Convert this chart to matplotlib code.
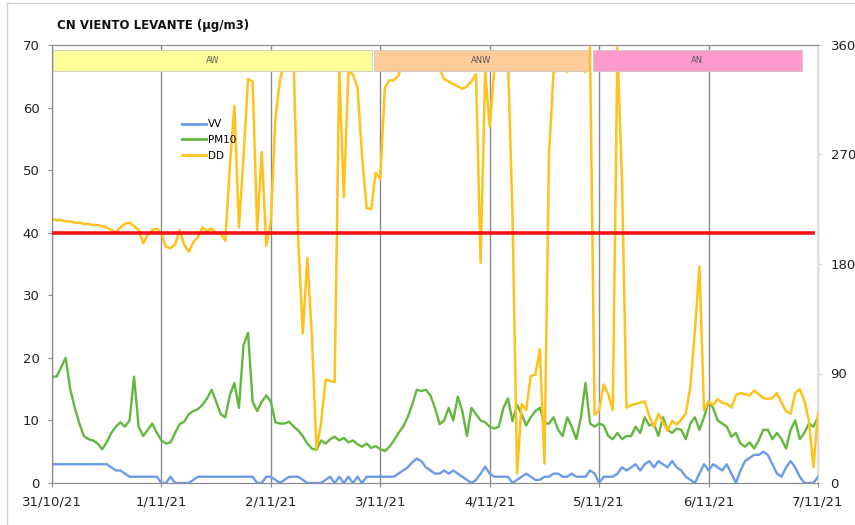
import numpy as np
import matplotlib.pyplot as plt
from matplotlib.lines import Line2D

# hourly values, 31/10/21 00:00 .. 7/11/21 00:00
hours = np.arange(169)

vv = [3, 3, 3, 3, 3, 3, 3, 3, 3, 3, 3, 3, 3, 2.5, 2, 2, 1.5, 1, 1, 1, 1, 1, 1, 1,
      0, 0, 1, 0, 0, 0, 0, 0.5, 1, 1, 1, 1, 1, 1, 1, 1, 1, 1, 1, 1, 1, 0, 0, 1,
      1, 0.5, 0, 0.5, 1, 1, 1, 0.5, 0, 0, 0, 0, 0.5, 1, 0, 1, 0, 1, 0, 1, 0, 1, 1, 1,
      1, 1, 1, 1, 1.5, 2, 2.5, 3.3, 3.9, 3.5, 2.5, 2, 1.5, 1.5, 2, 1.5, 2, 1.5, 1, 0.5, 0, 0.5, 1.5, 2.6,
      1.5, 1, 1, 1, 1, 0, 0.5, 1, 1.5, 1, 0.5, 0.5, 1, 1, 1.5, 1.5, 1, 1, 1.5, 1, 1, 1, 2, 1.5,
      0, 1, 1, 1, 1.5, 2.5, 2, 2.5, 3, 2, 3, 3.5, 2.5, 3.5, 3, 2.5, 3.5, 2.5, 2, 1, 0.5, 0, 1.5, 3,
      2, 3, 2.5, 2, 3, 1.5, 0, 2, 3.5, 4, 4.5, 4.5, 5, 4.5, 3, 1.5, 1, 2.5, 3.5, 2.5, 1, 0, 0, 0,
      1]

pm10 = [17, 17, 18.5, 20, 15, 12, 9.5, 7.5, 7, 6.8, 6.3, 5.4, 6.5, 8, 9, 9.7, 9, 10, 17, 9, 7.5, 8.5, 9.5, 8,
        6.8, 6.3, 6.5, 8, 9.4, 9.8, 11, 11.5, 11.8, 12.5, 13.5, 14.9, 13, 11, 10.5, 14, 16, 12, 22, 24, 13, 11.5, 13, 14,
        13, 9.7, 9.5, 9.5, 9.8, 9, 8.4, 7.5, 6.3, 5.5, 5.3, 6.8, 6.3, 7, 7.4, 6.8, 7.2, 6.5, 6.8, 6.2, 5.8, 6.3, 5.6, 5.9,
        5.4, 5.1, 5.8, 6.8, 8, 9, 10.5, 12.5, 14.9, 14.7, 14.9, 14, 12, 9.4, 10, 12, 10, 13.8, 11.5, 7.5, 12, 11, 10, 9.7,
        9, 8.7, 9, 12, 13.5, 9.9, 12.5, 11, 9.2, 10.5, 11.5, 12, 9.5, 9.5, 10.5, 8.5, 7.5, 10.5, 9, 7, 10.5, 16, 9.5, 9,
        9.5, 9.2, 7.5, 7, 8, 7, 7.5, 7.5, 9, 8, 10.5, 9.2, 9.5, 7.5, 10.5, 8.5, 8, 8.7, 8.5, 7, 9.5, 10.5, 8.5, 10.5,
        13, 12, 10, 9.5, 9, 7.4, 8, 6.3, 5.8, 6.5, 5.5, 6.8, 8.5, 8.5, 7, 8, 7, 5.5, 8.5, 10, 7, 8, 9.5, 9,
        10.5]

dd = [217, 216, 216, 215, 215, 214, 214, 213, 213, 212, 212, 211, 210, 208, 206, 210, 213, 214, 211, 208, 197, 204, 208, 209,
      205, 194, 193, 196, 208, 196, 190, 198, 202, 210, 207, 209, 206, 205, 199, 260, 310, 210, 268, 332, 330, 208, 272, 195,
      215, 300, 331, 348, 348, 348, 200, 123, 185, 120, 28, 49, 85, 84, 83, 340, 235, 338, 336, 325, 269, 226, 225, 255,
      250, 325, 331, 331, 335, 348, 348, 348, 348, 348, 348, 348, 348, 340, 332, 330, 328, 326, 324, 326, 330, 336, 181, 338,
      293, 340, 348, 348, 348, 220, 8, 65, 60, 88, 89, 110, 16, 270, 338, 339, 340, 338, 340, 339, 340, 338, 358, 56,
      60, 81, 73, 60, 358, 250, 62, 64, 65, 66, 67, 55, 46, 57, 50, 43, 51, 48, 52, 57, 79, 125, 178, 60,
      67, 64, 69, 66, 65, 62, 72, 74, 73, 72, 76, 73, 70, 69, 70, 74, 66, 59, 57, 74, 77, 68, 51, 13,
      57]

limit = 40
limit_hours = [0, 167]

date_labels = ['31/10/21', '1/11/21', '2/11/21', '3/11/21', '4/11/21', '5/11/21', '6/11/21', '7/11/21']

# wind sector bands (start hour, end hour)
band_names = ['AW', 'ANW', 'AN']
band_start = [0.3, 70.6, 118.6]
band_end = [70.1, 117.6, 164.5]
band_colors = ['#FFFF99', '#FFCC99', '#FF99CC']

fig = plt.figure(figsize=(8.55, 5.25), dpi=100)
ax = fig.add_axes([52 / 855, 1 - 483 / 525, 766 / 855, 438 / 525])
ax2 = ax.twinx()

ax.set_xlim(0, 168)
ax.set_ylim(0, 70)
ax2.set_ylim(0, 360)

ax.set_xticks(np.arange(0, 169, 24))
ax.set_xticklabels(date_labels)
ax.set_yticks(np.arange(0, 71, 10))
ax2.set_yticks([0, 90, 180, 270, 360])
ax.xaxis.grid(True, color='#8a8a8a', lw=1)
ax.set_axisbelow(True)

ax.plot(hours, vv, color='#6A9BEA', lw=1.7, zorder=2)
ax.plot(hours, pm10, color='#62B83C', lw=1.7, zorder=3)

ax2.plot(hours, dd, color='#FFC21C', lw=1.8, zorder=2)
ax2.plot(limit_hours, [limit, limit], color='#F21414', lw=2.6, zorder=3,
         transform=ax.transData)
for name, s, e, c in zip(band_names, band_start, band_end, band_colors):
    ax2.fill_between([s, e], 65.8, 69.2, color=c, edgecolor='#C8C8C8', lw=0.6,
                     zorder=4, transform=ax.transData)
    ax2.text((s + e) / 2, 67.5, name, transform=ax.transData, ha='center', va='center',
             fontsize=6, color='#555555', zorder=5)

for a in (ax, ax2):
    for sp in a.spines.values():
        sp.set_color('#8c8c8c')
ax2.spines['right'].set_color('#D9D9D9')
ax.tick_params(axis='both', labelsize=9.5, colors='#8c8c8c', labelcolor='#222222', length=3)
ax.tick_params(axis='y', pad=6)
ax.tick_params(axis='x', pad=6)
ax2.tick_params(axis='y', labelsize=9.5, colors='#D9D9D9', labelcolor='#222222', length=3, pad=6)

handles = [Line2D([], [], color='#6A9BEA', lw=2),
           Line2D([], [], color='#62B83C', lw=2),
           Line2D([], [], color='#FFC21C', lw=2)]
leg = ax2.legend(handles, ['VV', 'PM10', 'DD'], loc='upper left',
                 bbox_to_anchor=(178 / 855, 1 - 115 / 525), bbox_transform=fig.transFigure,
                 borderaxespad=0, fontsize=7.5, handlelength=2.3, handletextpad=0.2,
                 labelspacing=0.55, borderpad=0.4, fancybox=False, framealpha=0)
leg.get_frame().set_edgecolor('#333333')
leg.get_frame().set_linewidth(1)
leg.set_zorder(6)

fig.text(57 / 855, 1 - 25 / 525, 'CN VIENTO LEVANTE (µg/m3)', fontsize=8.5,
         fontweight='bold', ha='left', va='center', color='#111111')

fig.add_artist(Line2D([7 / 855, 7 / 855], [0, 1 - 3 / 525], transform=fig.transFigure,
                      color='#D0D0D0', lw=1))
fig.add_artist(Line2D([7 / 855, 1], [1 - 3 / 525, 1 - 3 / 525], transform=fig.transFigure,
                      color='#D0D0D0', lw=1))

fig.savefig('out.png', dpi=100)
